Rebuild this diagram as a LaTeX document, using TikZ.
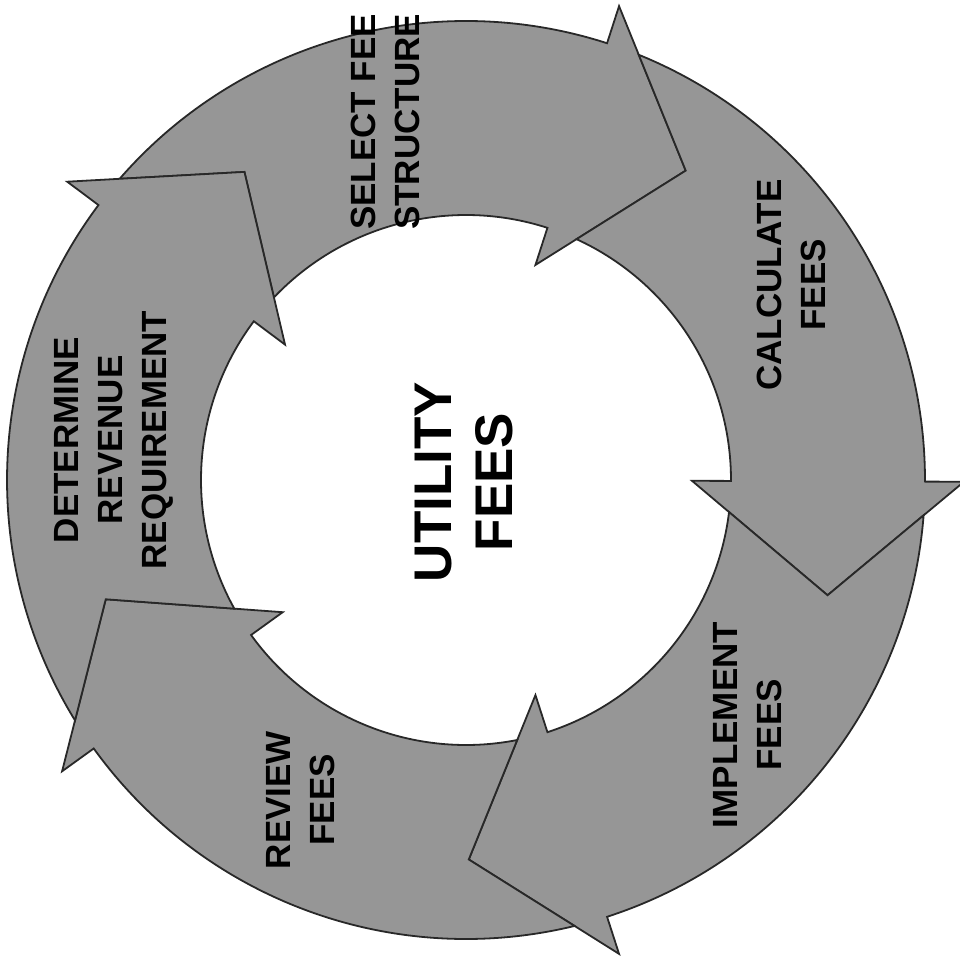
\documentclass[tikz,border=0pt]{standalone}
\usepackage{fontspec}
\newfontfamily\arialfont{Liberation Sans}
\definecolor{ringgray}{RGB}{150,150,150}
\definecolor{edgegray}{RGB}{40,40,40}
\tikzset{
  arrowshape/.style={fill=ringgray, draw=edgegray, line width=0.9pt, line join=miter},
  cyclelabel/.style={rotate=90, align=center, text=black,
    font=\arialfont\bfseries\fontsize{17.5}{22}\selectfont, inner sep=0pt},
  hublabel/.style={rotate=90, align=center, text=black,
    font=\arialfont\bfseries\fontsize{26.5}{30.5}\selectfont, inner sep=0pt}
}
% #1 = head base angle, #2 = head base angle of the previous arrow
\newcommand{\ringarrow}[2]{%
  \draw[arrowshape] ({#2-4.21}:459) arc[start angle={#2-4.21}, end angle={#1}, radius=459]
    -- ({#1}:498) -- ({#1-17.48}:379.5) -- ({#1}:226) -- ({#1}:265)
    arc[start angle={#1}, end angle={#2-6.75}, radius=265]
    -- ({#2-17.48}:379.5) -- cycle;}
\begin{document}
\begin{tikzpicture}[x=0.5pt, y=0.5pt]
  \useasboundingbox (-466,-486) rectangle (494,480);
  \clip (-466,-486) rectangle (494,480);
  % five arrows of the cycle (clockwise)
  \ringarrow{72.1}{143.2}    % select fee structure
  \ringarrow{-0.2}{72.1}     % calculate fees
  \ringarrow{-72.1}{-0.2}    % implement fees
  \ringarrow{-144.2}{-72.1}  % review fees
  \ringarrow{-216.8}{-144.2} % determine revenue requirement
  % labels
  \node[cyclelabel] (sel) at (-81,358) {SELECT FEE\\STRUCTURE};
  \node[cyclelabel] (calc) at (325.5,195) {CALCULATE\\FEES};
  \node[cyclelabel] (impl) at (282,-245) {IMPLEMENT\\FEES};
  \node[cyclelabel] (rev) at (-165,-320) {REVIEW\\FEES};
  \node[cyclelabel] (det) at (-352.5,40) {DETERMINE\\REVENUE\\REQUIREMENT};
  \node[hublabel] (hub) at (-2,-2) {UTILITY\\FEES};
\end{tikzpicture}
\end{document}
